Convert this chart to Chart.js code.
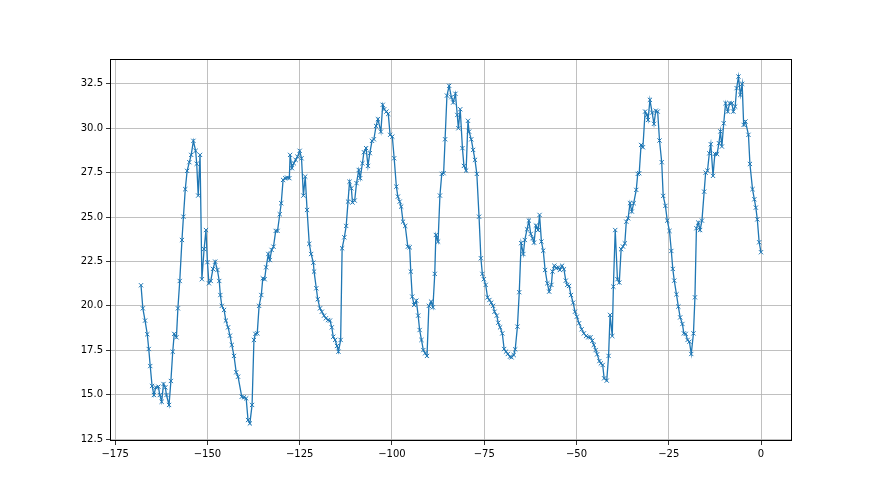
<!DOCTYPE html>
<html>
<head>
<meta charset="utf-8">
<script src="https://cdn.jsdelivr.net/npm/chart.js@4/dist/chart.umd.min.js"></script>
<style>
  html, body { margin: 0; padding: 0; background: #fff; }
  #wrap { width: 880px; height: 495px; position: relative; }
</style>
</head>
<body>
<div id="wrap"><canvas id="chart"></canvas></div>
<script>
// hours (x) and readings (y)
const xs = [
  -168.0, -167.5, -166.9, -166.3, -165.9, -165.5, -165.0, -164.5, -164.0, -163.3,
  -162.9, -162.4, -161.9, -161.4, -161.1, -160.4, -159.9, -159.4, -159.0, -158.4,
  -158.0, -157.5, -156.9, -156.5, -156.0, -155.5, -154.9, -154.4, -153.8, -153.2,
  -152.9, -152.5, -152.0, -151.5, -150.9, -150.4, -150.0, -149.6, -149.1, -148.5,
  -147.9, -147.3, -146.8, -146.5, -146.1, -145.5, -145.0, -144.4, -143.9, -143.4,
  -142.8, -142.2, -141.7, -140.7, -140.1, -139.5, -139.0, -138.5, -137.9, -137.4,
  -137.0, -136.5, -136.0, -135.4, -135.0, -134.5, -134.1, -133.5, -133.1, -132.6,
  -132.1, -131.5, -131.0, -130.4, -130.0, -129.5, -128.9, -128.4, -127.8, -127.6,
  -127.1, -126.6, -126.1, -125.6, -125.0, -124.5, -124.0, -123.5, -123.0, -122.4,
  -121.9, -121.3, -121.1, -120.5, -120.1, -119.5, -119.0, -118.4, -117.9, -117.3,
  -116.8, -116.3, -115.9, -115.4, -114.9, -114.5, -113.9, -113.5, -112.9, -112.4,
  -111.9, -111.5, -111.0, -110.7, -110.1, -109.6, -109.0, -108.6, -108.0, -107.6,
  -107.0, -106.5, -106.0, -105.4, -104.9, -104.3, -103.8, -103.0, -102.5, -102.1,
  -101.5, -101.0, -100.5, -99.9, -99.4, -98.8, -98.4, -97.9, -97.5, -97.0,
  -96.4, -95.7, -95.2, -94.9, -94.5, -94.0, -93.4, -92.9, -92.5, -92.0,
  -91.5, -91.0, -90.5, -90.0, -89.4, -88.9, -88.4, -88.1, -87.5, -87.0,
  -86.5, -86.0, -85.6, -85.1, -84.5, -83.9, -83.4, -82.8, -82.3, -82.0,
  -81.5, -80.9, -80.5, -79.9, -79.4, -79.1, -78.5, -78.0, -77.5, -77.0,
  -76.4, -75.9, -75.5, -75.1, -74.6, -74.1, -73.6, -73.1, -72.6, -72.2,
  -71.6, -71.2, -70.7, -70.1, -69.6, -69.1, -68.6, -68.0, -67.6, -67.0,
  -66.6, -66.0, -65.5, -65.0, -64.4, -64.0, -63.4, -62.9, -62.4, -61.9,
  -61.5, -61.0, -60.4, -60.0, -59.5, -59.0, -58.5, -57.9, -57.4, -56.8,
  -56.5, -56.0, -55.5, -54.9, -54.5, -53.9, -53.4, -52.9, -52.5, -52.0,
  -51.5, -50.9, -50.4, -49.9, -49.3, -48.6, -48.0, -47.4, -46.8, -46.2,
  -45.7, -45.3, -44.8, -44.4, -43.8, -43.4, -42.9, -42.5, -41.8, -41.3,
  -40.9, -40.3, -40.0, -39.5, -38.9, -38.4, -37.9, -37.4, -36.9, -36.5,
  -36.0, -35.5, -35.0, -34.5, -33.8, -33.4, -33.0, -32.5, -32.0, -31.4,
  -30.9, -30.6, -30.1, -29.5, -29.0, -28.5, -28.0, -27.5, -26.9, -26.5,
  -25.9, -25.4, -24.8, -24.3, -23.9, -23.5, -22.9, -22.4, -21.9, -21.3,
  -20.9, -20.4, -19.9, -19.4, -18.9, -18.3, -17.9, -17.5, -17.0, -16.5,
  -16.0, -15.4, -15.0, -14.5, -14.0, -13.6, -13.0, -12.5, -11.9, -11.4,
  -11.0, -10.6, -10.1, -9.6, -9.0, -8.5, -7.9, -7.5, -7.0, -6.6,
  -6.1, -5.6, -5.1, -4.7, -4.2, -3.4, -3.0, -2.3, -1.8, -1.4,
  -1.0, -0.5, 0.0
];
const ys = [
  21.16, 19.86, 19.17, 18.40, 17.57, 16.61, 15.49, 14.98, 15.41, 15.45,
  14.98, 14.60, 15.60, 15.41, 14.98, 14.42, 15.77, 17.42, 18.42, 18.23,
  19.86, 21.40, 23.71, 25.02, 26.57, 27.60, 28.09, 28.50, 29.29, 28.73,
  28.00, 26.21, 28.50, 21.50, 23.20, 24.27, 22.46, 21.27, 21.40, 22.08,
  22.49, 22.02, 21.40, 20.61, 20.00, 19.77, 19.17, 18.79, 18.32, 17.80,
  17.18, 16.26, 16.01, 14.88, 14.85, 14.79, 13.57, 13.38, 14.42, 18.08,
  18.42, 18.45, 20.00, 20.61, 21.55, 21.50, 22.17, 22.92, 22.58, 23.15,
  23.33, 24.22, 24.22, 25.16, 25.78, 27.09, 27.19, 27.22, 27.19, 28.50,
  27.75, 28.03, 28.22, 28.40, 28.73, 28.31, 26.21, 27.28, 25.40, 23.49,
  22.92, 22.43, 21.93, 20.99, 20.37, 19.86, 19.67, 19.45, 19.30, 19.20,
  19.17, 18.79, 18.26, 18.08, 17.74, 17.42, 18.08, 23.24, 23.86, 24.50,
  25.87, 26.99, 26.62, 25.82, 25.93, 26.91, 27.65, 27.19, 28.03, 28.65,
  28.88, 27.88, 28.60, 29.29, 29.38, 30.13, 30.51, 29.81, 31.32, 31.07,
  30.94, 30.81, 29.63, 29.53, 28.31, 26.71, 26.15, 25.87, 25.59, 24.74,
  24.50, 23.33, 23.30, 21.93, 20.52, 20.05, 20.29, 19.45, 18.64, 18.08,
  17.51, 17.33, 17.18, 20.00, 20.24, 19.92, 21.80, 23.99, 23.62, 26.21,
  27.43, 27.47, 29.38, 31.84, 32.39, 31.75, 31.45, 31.94, 30.75, 30.00,
  31.07, 28.88, 27.88, 27.62, 30.42, 29.81, 29.38, 28.78, 28.22, 27.43,
  25.02, 22.68, 21.80, 21.50, 21.18, 20.48, 20.33, 20.18, 20.00, 19.67,
  19.45, 19.05, 18.79, 18.45, 17.57, 17.42, 17.29, 17.14, 17.10, 17.23,
  17.55, 18.83, 20.77, 23.53, 22.92, 23.71, 24.31, 24.80, 24.05, 23.81,
  23.56, 24.52, 24.27, 25.12, 23.62, 23.11, 22.02, 21.27, 20.80, 21.18,
  21.93, 22.26, 22.12, 22.17, 22.02, 22.26, 22.06, 21.42, 21.18, 21.12,
  20.61, 20.18, 19.67, 19.39, 19.02, 18.68, 18.45, 18.30, 18.23, 18.23,
  18.04, 17.80, 17.51, 17.27, 16.89, 16.76, 16.67, 15.92, 15.79, 17.18,
  19.49, 18.30, 21.08, 24.27, 21.50, 21.31, 23.19, 23.34, 23.52, 24.74,
  24.93, 25.78, 25.31, 25.78, 26.53, 27.43, 27.47, 29.06, 28.93, 30.94,
  30.75, 30.47, 31.60, 30.88, 30.25, 30.99, 30.94, 29.31, 28.09, 26.19,
  25.63, 24.80, 24.22, 23.09, 22.08, 21.42, 20.65, 19.96, 19.35, 18.98,
  18.45, 18.42, 18.08, 17.98, 17.29, 18.45, 20.48, 24.37, 24.69, 24.27,
  24.80, 26.43, 27.50, 27.61, 28.59, 29.10, 27.32, 28.56, 28.54, 29.16,
  29.82, 28.97, 30.28, 31.41, 30.94, 31.41, 31.41, 30.94, 31.22, 32.26,
  32.91, 31.88, 32.50, 30.19, 30.38, 29.63, 27.99, 26.57, 26.00, 25.53,
  24.87, 23.58, 23.02
];
const xTicks = [-175, -150, -125, -100, -75, -50, -25, 0];
const yTicks = [12.5, 15.0, 17.5, 20.0, 22.5, 25.0, 27.5, 30.0, 32.5];

const lineColor = '#1f77b4';

const frame = {
  id: 'frame',
  afterDraw(chart) {
    const { ctx, chartArea: a } = chart;
    ctx.save();
    ctx.strokeStyle = '#000';
    ctx.lineWidth = 1;
    ctx.strokeRect(a.left + 0.5, a.top + 0.5, a.right - a.left - 1, a.bottom - a.top - 1);
    ctx.restore();
  }
};

const tickFont = { family: 'DejaVu Sans', size: 10 };

new Chart(document.getElementById('chart'), {
  type: 'line',
  data: {
    datasets: [{
      data: xs.map((x, i) => ({ x, y: ys[i] })),
      borderColor: lineColor,
      borderWidth: 1.3,
      pointStyle: 'crossRot',
      pointRadius: 3,
      pointBorderWidth: 1,
      pointBorderColor: lineColor,
      pointBackgroundColor: lineColor,
      tension: 0,
      fill: false
    }]
  },
  options: {
    responsive: true,
    maintainAspectRatio: false,
    devicePixelRatio: 1,
    animation: false,
    layout: { padding: { top: 59, right: 88, left: 0, bottom: 0 } },
    plugins: { legend: { display: false }, tooltip: { enabled: false } },
    scales: {
      x: {
        type: 'linear',
        min: -176.4,
        max: 8.4,
        afterBuildTicks: (s) => { s.ticks = xTicks.map((v) => ({ value: v })); },
        afterFit: (s) => { s.height = 54; },
        grid: { color: '#b0b0b0', lineWidth: 0.8, tickColor: '#000', tickLength: 4 },
        border: { display: false },
        ticks: {
          color: '#000',
          font: tickFont,
          padding: 3,
          maxRotation: 0,
          autoSkip: false,
          callback: (v) => (v < 0 ? '\u2212' + Math.abs(v) : String(v))
        }
      },
      y: {
        min: 12.39,
        max: 33.9,
        afterBuildTicks: (s) => { s.ticks = yTicks.map((v) => ({ value: v })); },
        afterFit: (s) => { s.width = 110; },
        grid: { color: '#b0b0b0', lineWidth: 0.8, tickColor: '#000', tickLength: 4 },
        border: { display: false },
        ticks: {
          color: '#000',
          font: tickFont,
          padding: 3,
          autoSkip: false,
          callback: (v) => v.toFixed(1)
        }
      }
    }
  },
  plugins: [frame]
});
</script>
</body>
</html>
